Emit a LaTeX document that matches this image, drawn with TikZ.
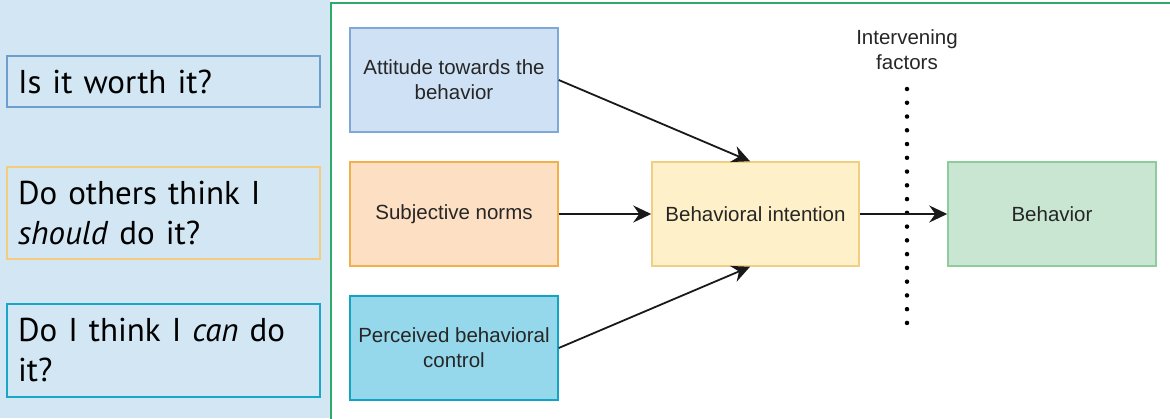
\documentclass[tikz,border=0pt]{standalone}
\usepackage{fontspec}
\setmainfont{Liberation Sans}
\newfontfamily\qfont{PT Sans}
\usetikzlibrary{arrows.meta}
\definecolor{leftbg}{HTML}{D2E7F3}
\definecolor{framec}{HTML}{2EAA6A}
\definecolor{qonec}{HTML}{6D9FCE}
\definecolor{qtwoc}{HTML}{F5CB7C}
\definecolor{qthreec}{HTML}{1AA6C6}
\definecolor{attfill}{HTML}{CFE2F5}
\definecolor{attdraw}{HTML}{7FA8D8}
\definecolor{subfill}{HTML}{FDE0C4}
\definecolor{subdraw}{HTML}{F2B04A}
\definecolor{perfill}{HTML}{95D8EB}
\definecolor{perdraw}{HTML}{13A3C4}
\definecolor{bifill}{HTML}{FEF0C8}
\definecolor{bidraw}{HTML}{F1CF82}
\definecolor{behfill}{HTML}{C9E6D2}
\definecolor{behdraw}{HTML}{8FCB9C}
\definecolor{txt}{HTML}{262626}
\tikzset{
  qbox/.style={rectangle, line width=2.5pt, minimum width=313pt, text width=291pt,
    align=left, inner xsep=11pt, font=\qfont\fontsize{33}{40}\selectfont, text=black},
  mbox/.style={rectangle, line width=1.5pt, minimum width=208pt, minimum height=104pt,
    align=center, font=\fontsize{20.5}{25}\selectfont, text=txt},
  arr/.style={line width=1.8pt, draw=black!90, -{Stealth[length=18pt,width=17pt,inset=6pt]}},
  dotline/.style={line width=4.5pt, line cap=round, dash pattern=on 0pt off 13.76pt}
}
\begin{document}
\begin{tikzpicture}[x=1pt,y=-1pt]
\useasboundingbox (0,0) rectangle (1170,418);
\fill[leftbg] (0,0) rectangle (330,418);
\draw[framec, line width=2pt] (331,419) -- (331,3) -- (1171,3);

\node[qbox, draw=qonec, minimum height=51pt] (q1) at (163.5,81.5) {Is it worth it?};
\node[qbox, draw=qtwoc, minimum height=92pt] (q2) at (163.5,213) {Do others think I\\\textit{should} do it?};
\node[qbox, draw=qthreec, minimum height=93pt] (q3) at (163.5,350.5) {Do I think I \textit{can} do\\it?};

\node[mbox, fill=attfill, draw=attdraw] (att) at (454,80) {Attitude towards the\\behavior};
\node[mbox, fill=subfill, draw=subdraw] (sub) at (454,214) {Subjective norms};
\node[mbox, fill=perfill, draw=perdraw] (per) at (454,348) {Perceived behavioral\\control};
\node[mbox, fill=bifill, draw=bidraw, minimum width=207pt] (bi) at (755.5,214) {Behavioral intention};
\node[mbox, fill=behfill, draw=behdraw] (beh) at (1052,214) {Behavior};

\node[align=center, font=\fontsize{20.5}{25}\selectfont, text=txt] (ivf) at (907,50) {Intervening\\factors};
\coordinate (d1) at (907,89);
\coordinate (d2) at (907,323);
\draw[dotline] (d1) -- (d2);

\draw[arr] (att.east) -- ([xshift=-5.5pt]bi.north);
\draw[arr] (sub.east) -- (bi.west);
\draw[arr] (per.east) -- ([xshift=-5.5pt]bi.south);
\draw[arr] (bi.east) -- (beh.west);
\end{tikzpicture}
\end{document}
